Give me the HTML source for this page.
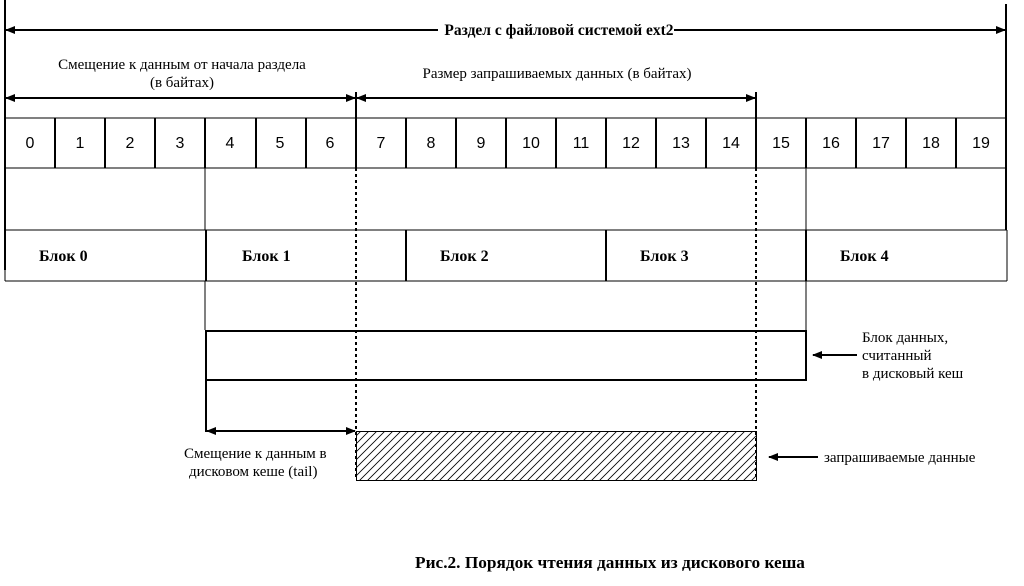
<!DOCTYPE html>
<html><head><meta charset="utf-8">
<style>
html,body{margin:0;padding:0;background:#fff;}
svg{display:block;}
text{font-family:"Liberation Serif",serif;fill:#000;}
.n{font-family:"Liberation Sans",sans-serif;font-size:16px;}
</style></head>
<body>
<svg width="1024" height="586" viewBox="0 0 1024 586" xmlns="http://www.w3.org/2000/svg">
<defs>
<marker id="ah" markerWidth="10" markerHeight="8" refX="9" refY="4" orient="auto" markerUnits="userSpaceOnUse">
<path d="M0,0 L10,4 L0,8 Z" fill="#000"/></marker>
<marker id="as" markerWidth="10" markerHeight="8" refX="1" refY="4" orient="auto" markerUnits="userSpaceOnUse">
<path d="M10,0 L0,4 L10,8 Z" fill="#000"/></marker>
<pattern id="hatch" width="8" height="8" patternUnits="userSpaceOnUse">
<path d="M-2,10 L10,-2 M-2,2 L2,-2 M6,10 L10,6" stroke="#000" stroke-width="0.8"/></pattern>
</defs>
<g stroke="#000" fill="none">
<line x1="5" y1="0" x2="5" y2="270" stroke-width="2"/>
<line x1="1006" y1="4" x2="1006" y2="230" stroke-width="2"/>
<line x1="6" y1="30" x2="1005" y2="30" stroke-width="2" marker-start="url(#as)" marker-end="url(#ah)"/>
<line x1="6" y1="98" x2="355" y2="98" stroke-width="2" marker-start="url(#as)" marker-end="url(#ah)"/>
<line x1="357" y1="98" x2="755" y2="98" stroke-width="2" marker-start="url(#as)" marker-end="url(#ah)"/>
<line x1="356" y1="92" x2="356" y2="168" stroke-width="2"/>
<line x1="756" y1="92" x2="756" y2="168" stroke-width="2"/>
<line x1="5" y1="118" x2="1007" y2="118"/>
<line x1="5" y1="168" x2="1007" y2="168"/>
<line x1="5" y1="230" x2="1007" y2="230"/>
<line x1="5" y1="281" x2="1007" y2="281"/>
<line x1="1007" y1="230" x2="1007" y2="281"/>
<line x1="5" y1="270" x2="5" y2="281"/>
</g>
<g stroke="#000" stroke-width="2">
<line x1="55" y1="118" x2="55" y2="168"/><line x1="105" y1="118" x2="105" y2="168"/>
<line x1="155" y1="118" x2="155" y2="168"/><line x1="205" y1="118" x2="205" y2="168"/>
<line x1="256" y1="118" x2="256" y2="168"/><line x1="306" y1="118" x2="306" y2="168"/>
<line x1="406" y1="118" x2="406" y2="168"/><line x1="456" y1="118" x2="456" y2="168"/>
<line x1="506" y1="118" x2="506" y2="168"/><line x1="556" y1="118" x2="556" y2="168"/>
<line x1="606" y1="118" x2="606" y2="168"/><line x1="656" y1="118" x2="656" y2="168"/>
<line x1="706" y1="118" x2="706" y2="168"/><line x1="806" y1="118" x2="806" y2="168"/>
<line x1="856" y1="118" x2="856" y2="168"/><line x1="906" y1="118" x2="906" y2="168"/>
<line x1="956" y1="118" x2="956" y2="168"/>
<line x1="206" y1="230" x2="206" y2="281"/>
<line x1="406" y1="230" x2="406" y2="281"/>
<line x1="606" y1="230" x2="606" y2="281"/>
<line x1="806" y1="230" x2="806" y2="281"/>
</g>
<g stroke="#000" stroke-width="1">
<line x1="205" y1="168" x2="205" y2="230"/>
<line x1="806" y1="168" x2="806" y2="230"/>
<line x1="205" y1="281" x2="205" y2="330"/>
<line x1="806" y1="281" x2="806" y2="330"/>
</g>
<g stroke="#000" stroke-width="2" stroke-dasharray="3,3">
<line x1="356" y1="168" x2="356" y2="480"/>
<line x1="756" y1="168" x2="756" y2="480"/>
</g>
<rect x="206" y="331" width="600" height="49" fill="none" stroke="#000" stroke-width="2"/>
<line x1="206" y1="380" x2="206" y2="432" stroke="#000" stroke-width="2"/>
<line x1="207" y1="431" x2="355" y2="431" stroke="#000" stroke-width="2" marker-start="url(#as)" marker-end="url(#ah)"/>
<rect x="356.5" y="431.5" width="400" height="49" fill="url(#hatch)" stroke="#000" stroke-width="1"/>
<line x1="857" y1="355" x2="813" y2="355" stroke="#000" stroke-width="2" marker-end="url(#ah)"/>
<line x1="818" y1="457" x2="769" y2="457" stroke="#000" stroke-width="2" marker-end="url(#ah)"/>
<rect x="438" y="20" width="236" height="18" fill="#fff"/>
<text x="559" y="35" font-size="15.5" font-weight="bold" text-anchor="middle">Раздел с файловой системой ext2</text>
<text x="182" y="69" font-size="15" text-anchor="middle">Смещение к данным от начала раздела</text>
<text x="182" y="87" font-size="15" text-anchor="middle">(в байтах)</text>
<text x="557" y="78" font-size="15" text-anchor="middle">Размер запрашиваемых данных (в байтах)</text>
<g text-anchor="middle">
<text x="30" y="148" class="n">0</text><text x="80" y="148" class="n">1</text><text x="130" y="148" class="n">2</text>
<text x="180" y="148" class="n">3</text><text x="230" y="148" class="n">4</text><text x="280" y="148" class="n">5</text>
<text x="330" y="148" class="n">6</text><text x="381" y="148" class="n">7</text><text x="431" y="148" class="n">8</text>
<text x="481" y="148" class="n">9</text><text x="531" y="148" class="n">10</text><text x="581" y="148" class="n">11</text>
<text x="631" y="148" class="n">12</text><text x="681" y="148" class="n">13</text><text x="731" y="148" class="n">14</text>
<text x="781" y="148" class="n">15</text><text x="831" y="148" class="n">16</text><text x="881" y="148" class="n">17</text>
<text x="931" y="148" class="n">18</text><text x="981" y="148" class="n">19</text>
</g>
<g font-size="16" font-weight="bold">
<text x="39" y="261">Блок 0</text>
<text x="242" y="261">Блок 1</text>
<text x="440" y="261">Блок 2</text>
<text x="640" y="261">Блок 3</text>
<text x="840" y="261">Блок 4</text>
</g>
<text x="862" y="342" font-size="15">Блок данных,</text>
<text x="862" y="360" font-size="15">считанный</text>
<text x="862" y="378" font-size="15">в дисковый кеш</text>
<text x="824" y="462" font-size="15">запрашиваемые данные</text>
<text x="184" y="458" font-size="15">Смещение к данным в</text>
<text x="189" y="476" font-size="15">дисковом кеше (tail)</text>
<text x="610" y="568" font-size="17.3" font-weight="bold" text-anchor="middle">Рис.2. Порядок чтения данных из дискового кеша</text>
</svg>
</body></html>
